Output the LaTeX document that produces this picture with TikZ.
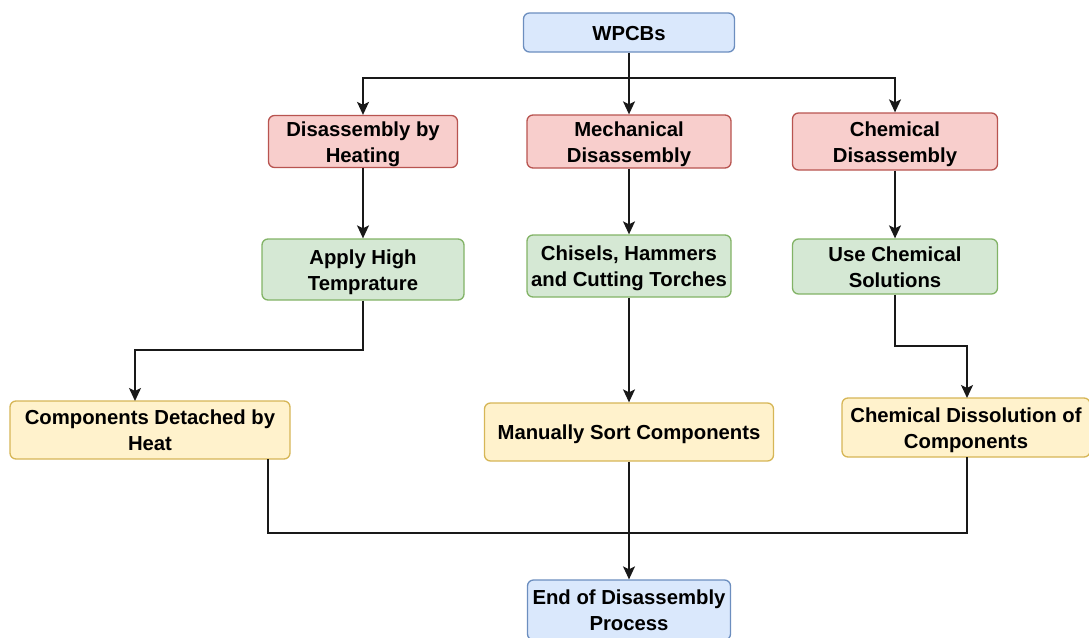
\documentclass[tikz,border=0pt]{standalone}
\usepackage{fontspec}
\setmainfont{Liberation Sans}
\usetikzlibrary{arrows.meta,positioning,calc}

\definecolor{blueF}{HTML}{DAE8FC}\definecolor{blueD}{HTML}{6C8EBF}
\definecolor{redF}{HTML}{F8CECC}\definecolor{redD}{HTML}{B85450}
\definecolor{greenF}{HTML}{D5E8D4}\definecolor{greenD}{HTML}{82B366}
\definecolor{yellowF}{HTML}{FFF2CC}\definecolor{yellowD}{HTML}{D6B656}

% centred label, one or more lines, set a little low in its box
\newcommand\lbl[1]{\raisebox{-2.5pt}[\height][\depth]{\begin{tabular}{@{}c@{}}#1\end{tabular}}}

\tikzset{
  box/.style={draw, rounded corners=6pt, line width=1.3pt,
    inner sep=0pt, font=\fontsize{20.3pt}{26pt}\selectfont\bfseries},
  bluebox/.style={box, fill=blueF, draw=blueD},
  redbox/.style={box, fill=redF, draw=redD},
  greenbox/.style={box, fill=greenF, draw=greenD},
  yellowbox/.style={box, fill=yellowF, draw=yellowD},
  wire/.style={line width=1.5pt, black!90},
  arr/.style={wire, -{Stealth[length=13pt,width=12pt,inset=3pt]}},
}

\begin{document}
\begin{tikzpicture}[x=1pt,y=-1pt]
\useasboundingbox (0,0) rectangle (1089,637);

% top level
\node[bluebox, minimum width=211pt, minimum height=39pt] (wp) at (629,32.5) {\lbl{WPCBs}};

% disassembly methods
\node[redbox, minimum width=189pt, minimum height=51pt] (heat) at (363,141.5) {\lbl{Disassembly by\\Heating}};
\node[redbox, minimum width=204pt, minimum height=53pt] (mech) at (629,141.5) {\lbl{Mechanical\\Disassembly}};
\node[redbox, minimum width=205pt, minimum height=57pt] (chem) at (895,141.5) {\lbl{Chemical\\Disassembly}};

% means
\node[greenbox, minimum width=202pt, minimum height=61pt] (apply) at (363,269.5) {\lbl{Apply High\\Temprature}};
\node[greenbox, minimum width=204pt, minimum height=62pt] (tools) at (629,266) {\lbl{Chisels, Hammers\\and Cutting Torches}};
\node[greenbox, minimum width=205pt, minimum height=55pt] (sol) at (895,266.5) {\lbl{Use Chemical\\Solutions}};

% results
\node[yellowbox, minimum width=280pt, minimum height=58pt] (det) at (150,430) {\lbl{Components Detached by\\Heat}};
\node[yellowbox, minimum width=289pt, minimum height=58pt] (sort) at (629,432) {\lbl{Manually Sort Components}};
\node[yellowbox, minimum width=248pt, minimum height=59pt] (diss) at (966,427.5) {\lbl{Chemical Dissolution of\\Components}};

% end
\node[bluebox, minimum width=203pt, minimum height=60pt] (end) at (629,610) {\lbl{End of Disassembly\\Process}};

% bends and junctions
\coordinate (jtop) at (629,78);
\coordinate (b1) at (363,350);
\coordinate (detin) at (135,401);
\coordinate (b2) at (895,346);
\coordinate (dissin) at (967,398);
\coordinate (detout) at (268,459);
\coordinate (dissout) at (967,457);
\coordinate (jbot) at (629,533);

% connectors
\draw[wire] (wp.south) -- (jtop);
\draw[arr] (jtop) -| (heat.north);
\draw[arr] (jtop) -- (mech.north);
\draw[arr] (jtop) -| (chem.north);

\draw[arr] (heat.south) -- (apply.north);
\draw[arr] (mech.south) -- (tools.north);
\draw[arr] (chem.south) -- (sol.north);

\draw[arr] (apply.south) -- (b1) -| (detin);
\draw[arr] (tools.south) -- (sort.north);
\draw[arr] (sol.south) -- (b2) -| (dissin);

\draw[wire] (detout) |- (jbot);
\draw[wire] (dissout) |- (jbot);
\draw[arr] (sort.south) -- (end.north);
\end{tikzpicture}
\end{document}
